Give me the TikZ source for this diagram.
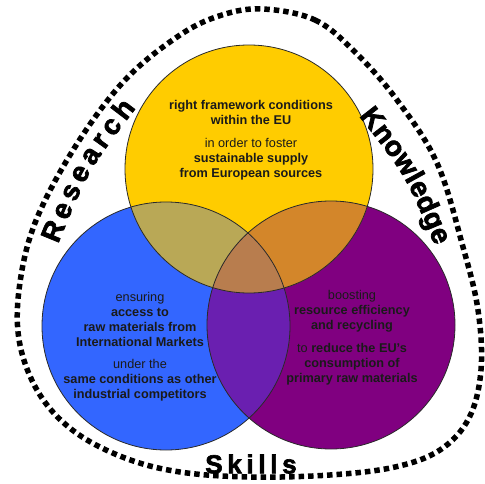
\documentclass[tikz,border=0pt]{standalone}
\usepackage{fontspec}
\setmainfont{Liberation Sans}
\newfontfamily\heavyfont{Liberation Sans Bold}[FakeBold=2.5]
\usetikzlibrary{decorations.text}
\definecolor{cyel}{HTML}{FFCC00}
\definecolor{cblu}{HTML}{3366FF}
\definecolor{cpur}{HTML}{800080}
\definecolor{cby}{HTML}{B9A856}
\definecolor{cyp}{HTML}{D3862A}
\definecolor{cbp}{HTML}{6A1FB0}
\definecolor{cmid}{HTML}{B87D4E}
\definecolor{ctxt}{HTML}{1A1A1A}
\definecolor{cedge}{HTML}{2A2A2A}
\tikzset{
  circedge/.style={draw=cedge,line width=0.8pt},
  bodytext/.style={align=center,text=ctxt,font=\fontsize{12.7}{15}\selectfont},
  dotborder/.style={draw=black,line width=5.5pt,dash pattern=on 5.5pt off 4pt},
}
\begin{document}
\begin{tikzpicture}[x=1pt,y=-1pt]
\useasboundingbox (0,0) rectangle (485,484);
\coordinate (Y) at (249,169);
\coordinate (B) at (166,326);
\coordinate (P) at (331,325);
\def\R{124}
% base fills
\fill[cblu] (B) circle[radius=\R];
\fill[cpur] (P) circle[radius=\R];
\fill[cyel] (Y) circle[radius=\R];
% overlaps
\begin{scope}
  \clip (B) circle[radius=\R];
  \fill[cby] (Y) circle[radius=\R];
  \fill[cbp] (P) circle[radius=\R];
\end{scope}
\begin{scope}
  \clip (P) circle[radius=\R];
  \fill[cyp] (Y) circle[radius=\R];
\end{scope}
\begin{scope}
  \clip (B) circle[radius=\R];
  \clip (P) circle[radius=\R];
  \fill[cmid] (Y) circle[radius=\R];
\end{scope}
% outlines
\draw[circedge] (B) circle[radius=\R];
\draw[circedge] (P) circle[radius=\R];
\draw[circedge] (Y) circle[radius=\R];
% dotted border
\draw[dotborder] plot[smooth cycle,tension=0.6] coordinates {
 (263,9) (315,20) (355,52) (397,100) (437,163) (463,247) (478,310) (481,370)
 (469,418) (440,450) (395,467) (330,475) (250,477) (180,472) (125,458) (75,432)
 (40,395) (20,345) (19,290) (35,223) (75,147) (125,80) (180,35) (222,15)};
% texts
\node[bodytext] (ty) at (251,140) {\textbf{right framework conditions}\\\textbf{within the EU}\\[8pt]in order to foster\\\textbf{sustainable supply}\\\textbf{from European sources}};
\node[bodytext] (tb) at (140,346.5) {ensuring\\\textbf{access to}\\\textbf{raw materials from}\\\textbf{International Markets}\\[7pt]under the\\\textbf{same conditions as other}\\\textbf{industrial competitors}};
\node[bodytext] (tp) at (352,338) {boosting\\\textbf{resource efficiency}\\\textbf{and recycling}\\[8pt]to \textbf{reduce the EU's}\\\textbf{consumption of}\\\textbf{primary raw materials}};
% curved labels
\path[decorate,decoration={text along path,text align={fit to path},
  text={|\heavyfont\fontsize{28}{28}\selectfont|Research}}]
  (58,244) .. controls (88,171) .. (136,108);
\path[decorate,decoration={text along path,text align={fit to path},
  text={|\heavyfont\fontsize{28}{28}\selectfont|Knowledge}}]
  (359,116) .. controls (406,176) .. (435,246);
\node[font=\heavyfont\fontsize{26}{26}\selectfont\addfontfeature{LetterSpace=18}] (sk) at (251,464) {Skills};
\end{tikzpicture}
\end{document}
